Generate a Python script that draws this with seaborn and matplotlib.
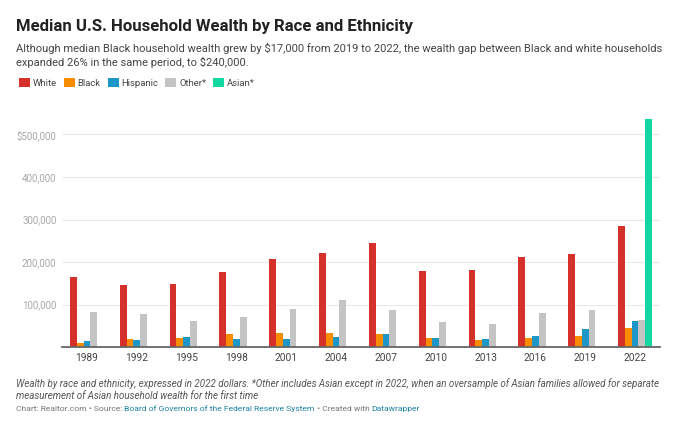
import seaborn as sns
import matplotlib.pyplot as plt
import pandas as pd
import numpy as np
from matplotlib.patches import Patch

# valores (dolares de 2022)
years = ["1989", "1992", "1995", "1998", "2001", "2004", "2007", "2010", "2013", "2016", "2019", "2022"]
white = [165000, 145000, 149000, 176000, 206000, 222000, 245000, 179000, 181000, 211000, 218000, 285000]
black = [9000, 20000, 22000, 30000, 33000, 33000, 31000, 22000, 17000, 22000, 27000, 45000]
hispanic = [14000, 16000, 24000, 20000, 20000, 24000, 31000, 22000, 20000, 26000, 42000, 62000]
other = [82000, 78000, 62000, 71000, 89000, 111000, 87000, 59000, 53000, 80000, 87000, 64000]
asian_years = ["2022"]
asian = [536000]

groups = ["White", "Black", "Hispanic", "Other*", "Asian*"]
colores = ["#d6302b", "#fa8c00", "#1d96c8", "#c4c4c4", "#14d8a2"]

filas = []
for serie, vals, yrs in [("White", white, years), ("Black", black, years),
                         ("Hispanic", hispanic, years), ("Other*", other, years),
                         ("Asian*", asian, asian_years)]:
    for y, v in zip(yrs, vals):
        filas.append({"year": y, "group": serie, "wealth": v})
datos = pd.DataFrame(filas)

sns.set_style("white")
plt.rcParams["font.family"] = ["Roboto", "DejaVu Sans"]

fig = plt.figure(figsize=(6.8, 4.33), dpi=100)
ax = fig.add_axes([62 / 680, 1 - 347 / 433, 598 / 680, 229.5 / 433])

sns.barplot(data=datos, x="year", y="wealth", hue="group", order=years,
            hue_order=groups, palette=colores, width=0.68, errorbar=None,
            saturation=1, ax=ax, legend=False, zorder=3, linewidth=0)

ax.set_xlim(-0.5, len(years) - 0.5)
ax.set_ylim(0, 540000)
ticks = [100000, 200000, 300000, 400000, 500000]
ax.set_yticks(ticks)
ax.set_yticklabels(["100,000", "200,000", "300,000", "400,000", "$500,000"])
ax.tick_params(axis="y", length=0, pad=4, labelsize=7.0, labelcolor="#a8a8a8")
ax.tick_params(axis="x", length=0, pad=4, labelsize=7.3, labelcolor="#444444")
ax.grid(axis="y", color="#e9e9e9", linewidth=0.8, zorder=0)
ax.set_xlabel("")
ax.set_ylabel("")
for s in ["top", "right", "left"]:
    ax.spines[s].set_visible(False)
ax.spines["bottom"].set_color("#666666")
ax.spines["bottom"].set_linewidth(1.3)
ax.spines["bottom"].set_zorder(4)

# textos
fig.text(16 / 680, 1 - 31 / 433, "Median U.S. Household Wealth by Race and Ethnicity",
         fontsize=12.1, fontweight="bold", color="#222222", va="baseline")
fig.text(16 / 680, 1 - 43 / 433,
         "Although median Black household wealth grew by $17,000 from 2019 to 2022, the wealth gap between Black and white households\n"
         "expanded 26% in the same period, to $240,000.",
         fontsize=8.05, color="#444444", va="top", linespacing=1.3)

handles = [Patch(facecolor=c, edgecolor="none") for c in colores]
fig.legend(handles, groups, loc="center left", bbox_to_anchor=(19 / 680, 1 - 83 / 433),
           ncol=5, frameon=False, fontsize=6.8, handlelength=1.15, handleheight=1.15,
           handletextpad=0.3, columnspacing=0.75, labelcolor="#444444", borderaxespad=0,
           borderpad=0)

fig.text(16 / 680, 1 - 378 / 433,
         "Wealth by race and ethnicity, expressed in 2022 dollars. *Other includes Asian except in 2022, when an oversample of Asian families allowed for separate\n"
         "measurement of Asian household wealth for the first time",
         fontsize=7.0, style="italic", color="#555555", va="top", linespacing=1.25)

# pie de fuente con colores
r = fig.canvas.get_renderer()
x = 16 / 680
yb = 1 - 411 / 433
for txt, col in [("Chart: Realtor.com • Source: ", "#777777"),
                 ("Board of Governors of the Federal Reserve System", "#1d81a2"),
                 (" • Created with ", "#777777"),
                 ("Datawrapper", "#1d81a2")]:
    t = fig.text(x, yb, txt, fontsize=6.1, color=col, va="baseline")
    bb = t.get_window_extent(renderer=r)
    x += bb.width / fig.bbox.width

fig.savefig("out.png", dpi=100)
